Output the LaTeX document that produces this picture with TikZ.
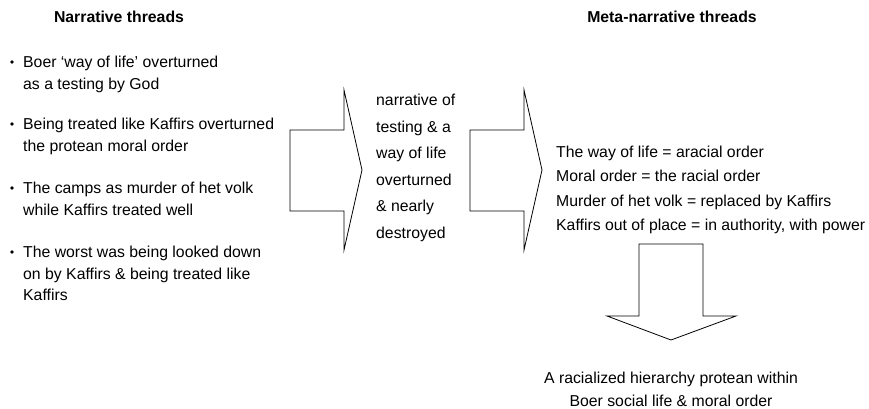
\documentclass[tikz,border=0pt]{standalone}
\usepackage{fontspec}
\setmainfont{Liberation Sans}
\usetikzlibrary{positioning}

\begin{document}
\begin{tikzpicture}[x=1pt,y=-1pt,
  heading/.style={inner sep=0pt,font=\fontsize{15.8}{18}\selectfont\bfseries},
  thread/.style={inner sep=0pt,anchor=north west,align=left,font=\fontsize{15.8}{21.5}\selectfont},
  dot/.style={circle,fill,inner sep=0pt,minimum size=3.6pt},
  blockarrow/.style={draw,line width=0.8pt,line join=miter}]
\useasboundingbox (0,0) rectangle (869,409);
% headings
\node[heading] (narr) at (119,17) {Narrative threads};
\node[heading] (meta) at (672,17) {Meta-narrative threads};
% narrative threads
\node[thread] (t1) at (23,56) {Boer `way of life' overturned\\as a testing by God};
\node[thread] (t2) at (23,118) {Being treated like Kaffirs overturned\\the protean moral order};
\node[thread] (t3) at (23,182) {The camps as murder of het volk\\while Kaffirs treated well};
\node[thread] (t4) at (23,246) {The worst was being looked down\\on by Kaffirs \& being treated like\\Kaffirs};
\foreach \t in {t1,t2,t3,t4}
  \node[dot,left=11pt of \t.north west,anchor=center,yshift=-6pt] {};
% middle thread
\node[thread,font=\fontsize{15.8}{26.5}\selectfont] (mid) at (376,94) {narrative of\\testing \& a\\way of life\\overturned\\\& nearly\\destroyed};
% meta-narrative threads
\node[thread,font=\fontsize{15.8}{24.3}\selectfont] (eq) at (556,146) {The way of life = aracial order\\Moral order = the racial order\\Murder of het volk = replaced by Kaffirs\\Kaffirs out of place = in authority, with power};
% result
\node[inner sep=0pt,align=center,font=\fontsize{15.8}{23}\selectfont] (res) at (671,389) {A racialized hierarchy protean within\\Boer social life \& moral order};
% block arrows
\draw[blockarrow] (290,130) -- (344,130) -- (344,90) -- (362,170) -- (344,250) -- (344,211) -- (290,211) -- cycle;
\draw[blockarrow] (470,130) -- (524,130) -- (524,90) -- (542,170) -- (524,250) -- (524,211) -- (470,211) -- cycle;
\draw[blockarrow] (639,244) -- (703,244) -- (703,316) -- (736,316) -- (671,340) -- (607,316) -- (639,316) -- cycle;
\end{tikzpicture}
\end{document}
